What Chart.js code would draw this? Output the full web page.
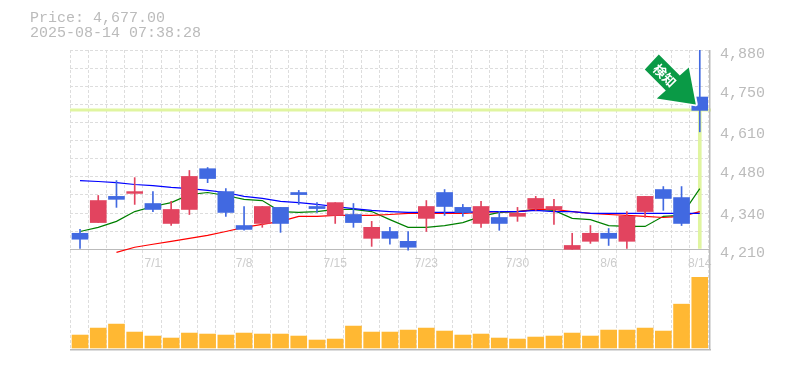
<!DOCTYPE html>
<html>
<head>
<meta charset="utf-8">
<style>
    body { margin: 0; background: #fff; }
    #wrap { position: relative; width: 785px; height: 370px; }
    #info { position: absolute; left: 30px; top: 11px; font: 15px/15px "Liberation Mono", monospace; color: #bbb; white-space: pre; }
</style>
<script src="https://cdn.jsdelivr.net/npm/chart.js@4/dist/chart.umd.min.js"></script>
</head>
<body>
<div id="wrap">
    <div id="info">Price: 4,677.00
2025-08-14 07:38:28</div>
    <canvas id="grafico" width="785" height="370"></canvas>
</div>
<script>
const datas = ["6/25","6/26","6/27","6/30","7/1","7/2","7/3","7/4","7/7","7/8","7/9","7/10","7/11","7/14","7/15","7/16","7/17","7/18","7/22","7/23","7/24","7/25","7/28","7/29","7/30","7/31","8/1","8/4","8/5","8/6","8/7","8/8","8/12","8/13","8/14"];
const datasVisiveis = ["7/1","7/8","7/15","7/23","7/30","8/6","8/14"];
const precosEixo = [4880, 4750, 4610, 4480, 4340, 4210];

const abertura = [4264,4300,4388,4398,4364,4297,4344,4481,4404,4290,4297,4351,4401,4354,4324,4327,4247,4270,4237,4314,4401,4351,4297,4317,4321,4347,4344,4210,4237,4264,4237,4337,4411,4384,4722];
const fechamento = [4244,4374,4378,4404,4344,4344,4455,4448,4334,4277,4354,4297,4394,4347,4367,4300,4284,4247,4217,4354,4354,4334,4354,4297,4331,4381,4354,4223,4264,4247,4321,4388,4381,4297,4677];
const maxima = [4277,4391,4441,4451,4404,4371,4475,4485,4414,4354,4354,4351,4408,4367,4367,4364,4304,4284,4270,4374,4411,4361,4371,4337,4351,4388,4378,4264,4290,4280,4337,4388,4421,4421,4880];
const minima = [4213,4300,4351,4361,4337,4290,4327,4434,4321,4274,4284,4267,4361,4334,4297,4284,4220,4227,4207,4270,4324,4321,4284,4274,4304,4341,4294,4210,4230,4223,4213,4317,4341,4290,4605];

const mediaVerde = [4270,4284,4304,4337,4354,4367,4394,4401,4391,4378,4374,4337,4334,4337,4344,4344,4337,4310,4284,4284,4290,4300,4321,4334,4337,4344,4341,4314,4310,4290,4287,4287,4321,4324,4414];
const mediaAzul = [4441,4438,4434,4428,4424,4418,4414,4408,4401,4388,4381,4371,4367,4361,4354,4347,4341,4337,4334,4334,4334,4334,4337,4337,4337,4341,4337,4337,4331,4331,4331,4331,4331,4331,4331];
const mediaVermelha = [null,null,4200,4217,4227,4237,4247,4257,4270,4284,4294,4304,4321,4321,4324,4324,4324,4327,4331,4331,4331,4331,4334,4337,4337,4344,4344,4337,4331,4327,4324,4321,4317,4321,4337];

const volume = [13,20,24,16,12,10,15,14,13,15,14,14,12,8,9,22,16,16,18,20,17,13,14,10,9,11,12,15,12,18,18,20,17,44,71];

const precoAtual = 4677;

const corAlta = "#e2445f";
const corBaixa = "#4169e1";
const corFaixa = "#e0f5a0";
const corEixo = "#bbb";
const corGrade = "#ddd";

const ultimo = datas.length - 1;
const corCandle = abertura.map((a, i) => fechamento[i] >= a ? corAlta : corBaixa);

// linha do preco atual, moldura e seta
const extras = {
    id: "extras",
    // os candles ficam quase 1px a direita da grade
    beforeDatasetsUpdate(chart) {
        chart.scales.x._startPixel += 0.9;
    },
    beforeDatasetsDraw(chart) {
        const { ctx, chartArea, scales } = chart;
        const y = Math.round(scales.y.getPixelForValue(precoAtual));
        ctx.save();
        ctx.fillStyle = corFaixa;
        ctx.fillRect(chartArea.left, y - 1.5, chartArea.right - chartArea.left + 3, 3);
        ctx.restore();
    },
    afterDatasetsDraw(chart) {
        const { ctx, chartArea, scales } = chart;
        ctx.save();
        ctx.fillStyle = corEixo;
        ctx.fillRect(chartArea.right + 1, chartArea.top, 1.5, chartArea.bottom - chartArea.top + 1);
        ctx.fillRect(chartArea.left, chartArea.bottom, chartArea.right - chartArea.left + 3, 1.5);

        // seta apontando para o ultimo candle
        const ax = scales.x.getPixelForValue(ultimo);
        const ay = scales.y.getPixelForValue(precoAtual);
        ctx.translate(ax, ay);
        const seta = [[-41,-56],[-20,-35],[-11,-43],[-4,-6],[-43,-12],[-34,-20],[-55,-41]];
        ctx.beginPath();
        seta.forEach((p, i) => i ? ctx.lineTo(p[0], p[1]) : ctx.moveTo(p[0], p[1]));
        ctx.closePath();
        ctx.lineJoin = "round";
        ctx.lineWidth = 4;
        ctx.strokeStyle = "#fff";
        ctx.stroke();
        ctx.fillStyle = "#0a9a46";
        ctx.fill();
        ctx.fillStyle = "#fff";
        ctx.font = "bold 13px 'Noto Sans CJK JP'";
        ctx.textAlign = "center";
        ctx.textBaseline = "middle";
        ctx.translate(-35, -35);
        ctx.rotate(Math.PI / 4);
        ctx.fillText("検知", 0, 0);
        ctx.restore();
    }
};

new Chart(document.getElementById("grafico"), {
    data: {
        labels: datas,
        datasets: [
            {
                type: "bar", label: "corpo", order: 1, grouped: false, barThickness: 16,
                data: abertura.map((a, i) => [a, fechamento[i]]),
                backgroundColor: corCandle
            },
            {
                type: "bar", label: "pavio", order: 2, grouped: false, barThickness: 1,
                data: minima.map((m, i) => [m, maxima[i]]),
                backgroundColor: corCandle
            },
            {
                type: "bar", label: "volume", order: 3, grouped: false, barThickness: 16,
                yAxisID: "yVol", data: volume, backgroundColor: "#ffb833"
            },
            {
                type: "line", label: "azul", order: 4, data: mediaAzul,
                borderColor: "#0000ff", borderWidth: 1.2, pointRadius: 0, tension: 0
            },
            {
                type: "line", label: "vermelha", order: 5, data: mediaVermelha,
                borderColor: "#ff0000", borderWidth: 1.2, pointRadius: 0, tension: 0, clip: false
            },
            {
                type: "line", label: "verde", order: 6, data: mediaVerde,
                borderColor: "#008000", borderWidth: 1.2, pointRadius: 0, tension: 0
            },
            {
                type: "bar", label: "faixa", order: 7, grouped: false, barThickness: 3,
                data: datas.map((d, i) => i === ultimo ? [4213, precoAtual] : null),
                backgroundColor: corFaixa
            }
        ]
    },
    plugins: [extras],
    options: {
        responsive: false,
        animation: false,
        layout: { padding: { left: 70, top: 50, bottom: 20, right: 0 } },
        plugins: { legend: { display: false }, tooltip: { enabled: false } },
        scales: {
            x: {
                type: "category",
                position: { y: 4210 },
                offset: true,
                grid: { display: false, drawTicks: false },
                border: { display: true, color: corEixo, width: 1 },
                ticks: {
                    autoSkip: false, maxRotation: 0, padding: 7,
                    color: "#ccc",
                    font: { family: "Liberation Sans", size: 12 },
                    callback(v) { const d = this.getLabelForValue(v); return datasVisiveis.includes(d) ? d : ""; }
                }
            },
            xGrade: {
                type: "category",
                position: "bottom",
                offset: true,
                afterFit(s) { s.height = 0; },
                grid: { offset: true, color: corGrade, drawTicks: false },
                border: { display: false, dash: [3, 2] },
                ticks: { display: false, autoSkip: false }
            },
            y: {
                position: "right",
                min: 3875,
                max: 4880,
                afterFit(s) { s.width = 77; },
                afterBuildTicks(s) { s.ticks = precosEixo.map(v => ({ value: v })); },
                grid: { display: false, drawTicks: false },
                border: { display: false },
                ticks: {
                    autoSkip: false, padding: 12, labelOffset: 4,
                    color: corEixo,
                    font: { family: "Liberation Mono", size: 15 },
                    callback: v => v.toLocaleString("en-US")
                }
            },
            yGrade: {
                position: "left",
                min: 3875,
                max: 4880,
                afterFit(s) { s.width = 0; },
                afterBuildTicks(s) {
                    const t = [];
                    for (let k = 0; k <= 11; k++) t.push({ value: 4880 - k * 670 / 11 });
                    s.ticks = t;
                },
                grid: { color: corGrade, drawTicks: false },
                border: { display: false, dash: [3, 2] },
                ticks: { display: false }
            },
            yVol: { display: false, min: -1, max: 299 }
        }
    }
});
</script>
</body>
</html>
